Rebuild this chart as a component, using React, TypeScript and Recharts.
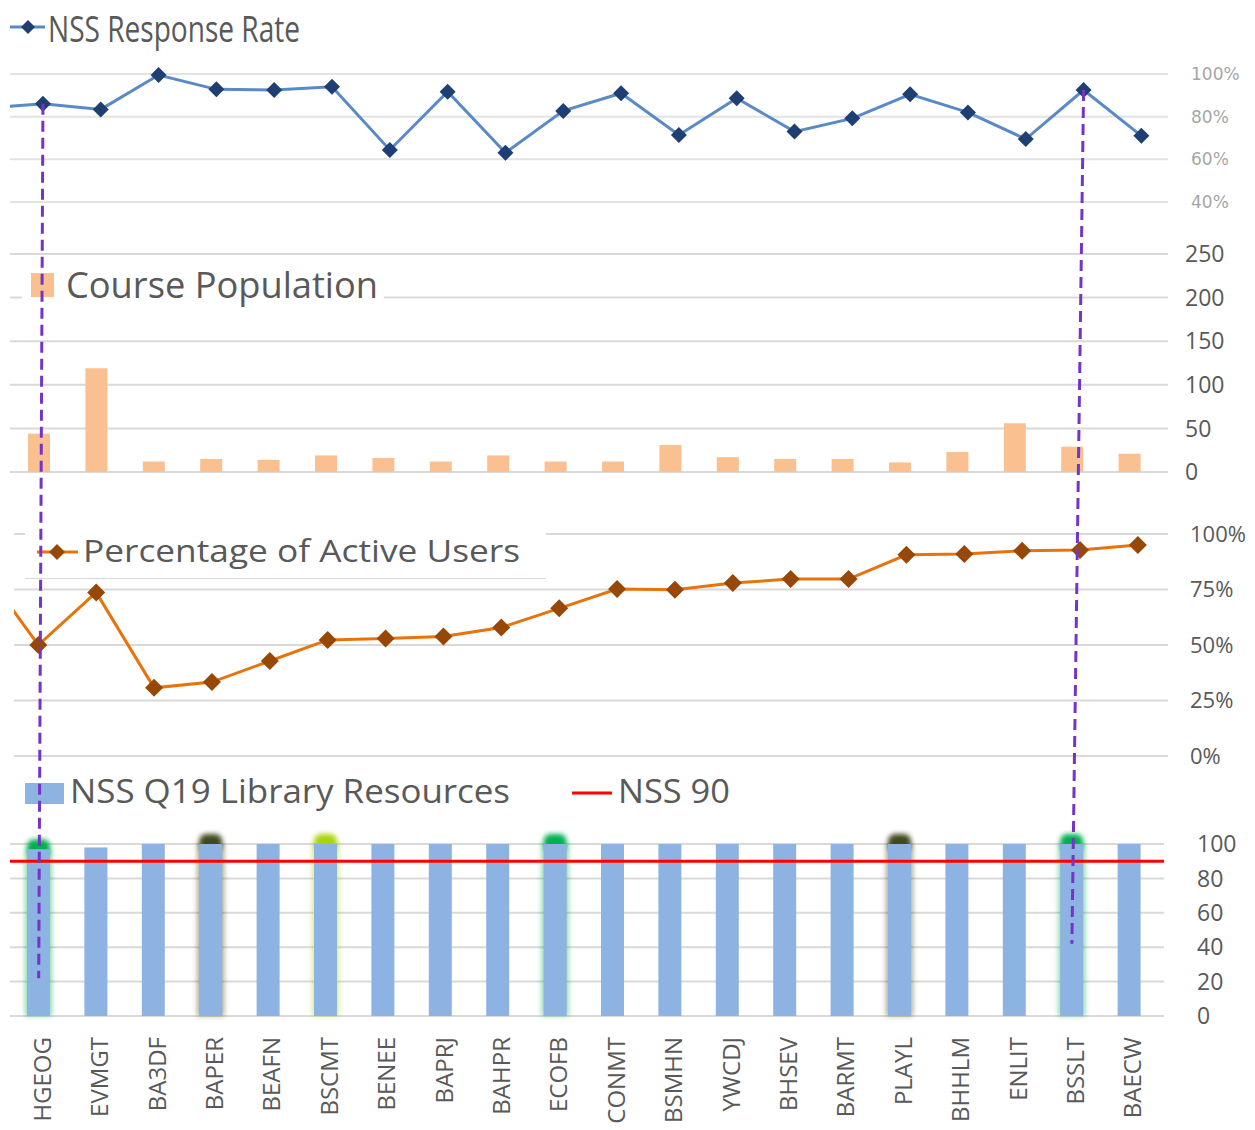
import React from "react";
import {
  ComposedChart,
  BarChart,
  Line,
  Bar,
  XAxis,
  YAxis,
  CartesianGrid,
  ReferenceLine,
  Legend,
} from "recharts";

// courses, in the order shown on the shared x axis
const courses = [
  "HGEOG", "EVMGT", "BA3DF", "BAPER", "BEAFN", "BSCMT", "BENEE", "BAPRJ", "BAHPR", "ECOFB",
  "CONMT", "BSMHN", "YWCDJ", "BHSEV", "BARMT", "PLAYL", "BHHLM", "ENLIT", "BSSLT", "BAECW",
];

// NSS response rate (%), plus the course cut off at the left edge
const responseRate = [86, 83.4, 99.5, 92.8, 92.5, 94, 64.4, 91.7, 63.1, 82.7, 91, 71.4, 88.6, 73, 79.2, 90.5, 82, 69.5, 92.5, 71];
const responseRateBefore = 84;

const coursePopulation = [44, 119, 12, 15, 14, 19, 16, 12, 19, 12, 12, 31, 17, 15, 15, 11, 23, 56, 29, 21];

// percentage of active users (%), plus the course cut off at the left edge
const activeUsers = [50, 73.7, 30.7, 33.3, 42.8, 52.3, 52.9, 53.8, 57.9, 66.5, 75.2, 74.9, 77.9, 79.7, 79.7, 90.6, 91, 92.4, 92.8, 95];
const activeUsersBefore = 86;

const libraryResources = [97, 98, 100, 100, 100, 100, 100, 100, 100, 100, 100, 100, 100, 100, 100, 100, 100, 100, 100, 100];
const nssTarget = 90;

const rateTicks = [40, 60, 80, 100];
const populationTicks = [0, 50, 100, 150, 200, 250];
const activeTicks = [0, 25, 50, 75, 100];
const libraryTicks = [0, 20, 40, 60, 80, 100];

// highlighted courses in the bottom panel
const glowByCourse: Record<string, string> = {
  HGEOG: "#00b050",
  BAPER: "#3f4a1c",
  BSCMT: "#a8d40a",
  ECOFB: "#00b050",
  PLAYL: "#3f4a1c",
  BSSLT: "#00b050",
};

// courses marked with the purple dashed guides (value where the guide stops in the bottom panel)
const guides = [
  { course: "HGEOG", endAt: 22 },
  { course: "BSSLT", endAt: 42 },
];

const W = 1255;
const GREY = "#595959";
const GRID = "#d9d9d9";
const FONT = "'Open Sans', 'Noto Sans', sans-serif";

// layout of each panel
const P1 = { top: 0, height: 220, mTop: 74, mBottom: 18, left: 10, right: 1168, dom: [-0.57, 19.46] };
const P2 = { top: 220, height: 270, mTop: 34, mBottom: 18, left: 10, right: 1168, pad: 10 };
const P3 = { top: 490, height: 285, mTop: 44, mBottom: 19, left: 14, right: 1168, dom: [-0.42, 19.52] };
const P4 = { top: 775, height: 355, mTop: 69, axisH: 114, left: 10, right: 1164, pad: 6 };

const rateData = [
  { idx: -1, value: responseRateBefore },
  ...responseRate.map((value, i) => ({ idx: i, value })),
];
const populationData = courses.map((course, i) => ({ course, value: coursePopulation[i] }));
const activeData = [
  { idx: -1, value: activeUsersBefore },
  ...activeUsers.map((value, i) => ({ idx: i, value })),
];
const libraryData = courses.map((course, i) => ({ course, value: libraryResources[i] }));

const diamond = (color: string, r: number) => (props: any) => {
  const { cx, cy, index } = props;
  if (cx == null || cy == null) return <g key={`d-${index}`} />;
  return (
    <path
      key={`d-${index}`}
      d={`M${cx},${cy - r}L${cx + r},${cy}L${cx},${cy + r}L${cx - r},${cy}Z`}
      fill={color}
    />
  );
};

const GlowBar = (props: any) => {
  const { x, y, width, height, fill, payload } = props;
  const glow = glowByCourse[payload?.course];
  return (
    <g>
      {glow && (
        <g filter="url(#barGlow)">
          <rect x={x - 2} y={y} width={width + 4} height={height} fill={glow} opacity={0.45} />
          <rect x={x} y={y - 10} width={width} height={18} rx={7} fill={glow} />
        </g>
      )}
      <rect x={x} y={y} width={width} height={height} fill={fill} />
    </g>
  );
};

const CourseTick = (props: any) => {
  const { x, y, payload } = props;
  const ax = x + 12;
  const ay = y + 21;
  return (
    <text
      x={ax}
      y={ay}
      transform={`rotate(-90 ${ax} ${ay})`}
      textAnchor="end"
      fontSize={24}
      fontFamily={FONT}
      fill={GREY}
    >
      {payload.value}
    </text>
  );
};

const legendStyle = (left: number, top: number) => ({ left, top, width: "auto", height: "auto" });
const svgStyle: React.CSSProperties = { display: "block", overflow: "visible" };

const RateLegend = () => (
  <svg width={460} height={50} style={svgStyle}>
    <line x1={10} y1={27} x2={45} y2={27} stroke="#5a8ac6" strokeWidth={3} />
    <path d="M28,20L35,27L28,34L21,27Z" fill="#1f3f73" />
    <text x={48} y={42} fontSize={37} fontFamily={FONT} fill={GREY} textLength={252} lengthAdjust="spacingAndGlyphs">
      NSS Response Rate
    </text>
  </svg>
);

const PopulationLegend = () => (
  <div style={{ position: "relative", width: 362, height: 43 }}>
    <div style={{ position: "absolute", inset: 0, background: "#fff" }} />
    <svg width={460} height={43} style={{ ...svgStyle, position: "relative" }}>
      <rect x={9} y={11} width={23} height={24} fill="#fac090" />
      <text x={44} y={36} fontSize={37} fontFamily={FONT} fill={GREY} textLength={312} lengthAdjust="spacingAndGlyphs">
        Course Population
      </text>
    </svg>
  </div>
);

const ActiveLegend = () => (
  <div style={{ position: "relative", width: 521, height: 53 }}>
    <div style={{ position: "absolute", inset: 0, background: "#fff", borderBottom: `1px solid ${GRID}` }} />
    <svg width={600} height={52} style={{ ...svgStyle, position: "relative" }}>
      <line x1={12} y1={26} x2={53} y2={26} stroke="#e8720c" strokeWidth={3} />
      <path d="M32,18L40,26L32,34L24,26Z" fill="#974706" />
      <text x={58} y={36} fontSize={31} fontFamily={FONT} fill={GREY} textLength={437} lengthAdjust="spacingAndGlyphs">
        Percentage of Active Users
      </text>
    </svg>
  </div>
);

const LibraryLegend = () => (
  <svg width={800} height={40} style={svgStyle}>
    <rect x={5} y={8} width={39} height={21} fill="#8db3e2" />
    <text x={50} y={28} fontSize={33} fontFamily={FONT} fill={GREY} textLength={440} lengthAdjust="spacingAndGlyphs">
      NSS Q19 Library Resources
    </text>
    <line x1={552} y1={18} x2={592} y2={18} stroke="#ff0000" strokeWidth={3} />
    <text x={598} y={28} fontSize={33} fontFamily={FONT} fill={GREY} textLength={112} lengthAdjust="spacingAndGlyphs">
      NSS 90
    </text>
  </svg>
);

// positions used for the dashed guides, from the same panel scales
const p1x = (i: number) => P1.left + ((i - P1.dom[0]) / (P1.dom[1] - P1.dom[0])) * (P1.right - P1.left);
const p1y = (v: number) => {
  const top = P1.top + P1.mTop;
  const h = P1.height - P1.mTop - P1.mBottom;
  return top + ((100 - v) / 60) * h;
};
const p4x = (i: number) => {
  const band = (P4.right - P4.pad - P4.left) / courses.length;
  return P4.left + (i + 0.5) * band;
};
const p4y = (v: number) => {
  const top = P4.top + P4.mTop;
  const h = P4.height - P4.mTop - P4.axisH;
  return top + ((100 - v) / 100) * h;
};

const abs = (top: number): React.CSSProperties => ({ position: "absolute", left: 0, top });

export default function App() {
  return (
    <div style={{ position: "absolute", left: 0, top: 0, width: W, height: 1130, background: "#fff", overflow: "hidden" }}>
      {/* NSS response rate */}
      <div style={abs(P1.top)}>
        <ComposedChart
          width={W}
          height={P1.height}
          data={rateData}
          margin={{ top: P1.mTop, right: 0, bottom: P1.mBottom, left: P1.left }}
        >
          <CartesianGrid vertical={false} stroke="#e3e3e3" strokeWidth={2} />
          <XAxis dataKey="idx" type="number" domain={P1.dom} allowDataOverflow hide />
          <YAxis
            orientation="right"
            width={W - P1.right}
            domain={[40, 100]}
            ticks={rateTicks}
            tickFormatter={(v) => `${v}%`}
            axisLine={false}
            tickLine={false}
            tickSize={0}
            tickMargin={23}
            tick={{ fontSize: 17, fill: "#a6a6a6", fontFamily: "'DejaVu Sans', sans-serif" }}
          />
          <Line
            dataKey="value"
            stroke="#5a8ac6"
            strokeWidth={3}
            dot={diamond("#1f3f73", 8)}
            activeDot={false}
            isAnimationActive={false}
          />
          <Legend verticalAlign="middle" align="center" content={RateLegend} wrapperStyle={legendStyle(0, 0)} />
        </ComposedChart>
      </div>

      {/* course population */}
      <div style={abs(P2.top)}>
        <BarChart
          width={W}
          height={P2.height}
          data={populationData}
          margin={{ top: P2.mTop, right: 0, bottom: P2.mBottom, left: P2.left }}
        >
          <CartesianGrid vertical={false} stroke={GRID} strokeWidth={2} />
          <XAxis dataKey="course" padding={{ left: 0, right: P2.pad }} hide />
          <YAxis
            orientation="right"
            width={W - P2.right}
            domain={[0, 250]}
            ticks={populationTicks}
            axisLine={false}
            tickLine={false}
            tickSize={0}
            tickMargin={17}
            tick={{ fontSize: 23, fill: GREY, fontFamily: FONT }}
          />
          <Bar dataKey="value" fill="#fac090" barSize={22} isAnimationActive={false} />
          <Legend verticalAlign="middle" align="center" content={PopulationLegend} wrapperStyle={legendStyle(22, 42)} />
        </BarChart>
      </div>

      {/* percentage of active users */}
      <div style={abs(P3.top)}>
        <ComposedChart
          width={W}
          height={P3.height}
          data={activeData}
          margin={{ top: P3.mTop, right: 0, bottom: P3.mBottom, left: P3.left }}
        >
          <CartesianGrid vertical={false} stroke={GRID} strokeWidth={2} />
          <XAxis dataKey="idx" type="number" domain={P3.dom} allowDataOverflow hide />
          <YAxis
            orientation="right"
            width={W - P3.right}
            domain={[0, 100]}
            ticks={activeTicks}
            tickFormatter={(v) => `${v}%`}
            axisLine={false}
            tickLine={false}
            tickSize={0}
            tickMargin={22}
            tick={{ fontSize: 22, fill: GREY, fontFamily: FONT }}
          />
          <Line
            dataKey="value"
            stroke="#e8720c"
            strokeWidth={3}
            dot={diamond("#974706", 9)}
            activeDot={false}
            isAnimationActive={false}
          />
          <Legend verticalAlign="middle" align="center" content={ActiveLegend} wrapperStyle={legendStyle(25, 36)} />
        </ComposedChart>
      </div>

      {/* NSS Q19 library resources */}
      <div style={abs(P4.top)}>
        <BarChart
          width={W}
          height={P4.height}
          data={libraryData}
          margin={{ top: P4.mTop, right: 0, bottom: 0, left: P4.left }}
        >
          <defs>
            <filter id="barGlow" x="-60%" y="-20%" width="220%" height="140%">
              <feGaussianBlur stdDeviation="2.5" />
            </filter>
          </defs>
          <CartesianGrid vertical={false} stroke={GRID} strokeWidth={2} />
          <XAxis
            dataKey="course"
            padding={{ left: 0, right: P4.pad }}
            height={P4.axisH}
            interval={0}
            axisLine={false}
            tickLine={false}
            tickSize={0}
            tickMargin={0}
            tick={<CourseTick />}
          />
          <YAxis
            orientation="right"
            width={W - P4.right}
            domain={[0, 100]}
            ticks={libraryTicks}
            axisLine={false}
            tickLine={false}
            tickSize={0}
            tickMargin={33}
            tick={{ fontSize: 23, fill: GREY, fontFamily: FONT }}
          />
          <Bar dataKey="value" fill="#8db3e2" barSize={23} shape={GlowBar} isAnimationActive={false} />
          <ReferenceLine y={nssTarget} stroke="#ff0000" strokeWidth={3} />
          <Legend verticalAlign="middle" align="center" content={LibraryLegend} wrapperStyle={legendStyle(20, 0)} />
        </BarChart>
      </div>

      {/* dashed guides across the panels */}
      <svg width={W} height={1130} style={{ position: "absolute", left: 0, top: 0, pointerEvents: "none" }}>
        {guides.map((g) => {
          const i = courses.indexOf(g.course);
          return (
            <line
              key={g.course}
              x1={p1x(i)}
              y1={p1y(responseRate[i])}
              x2={p4x(i)}
              y2={p4y(g.endAt)}
              stroke="#7434c8"
              strokeWidth={3}
              strokeDasharray="11 6"
            />
          );
        })}
      </svg>
    </div>
  );
}
